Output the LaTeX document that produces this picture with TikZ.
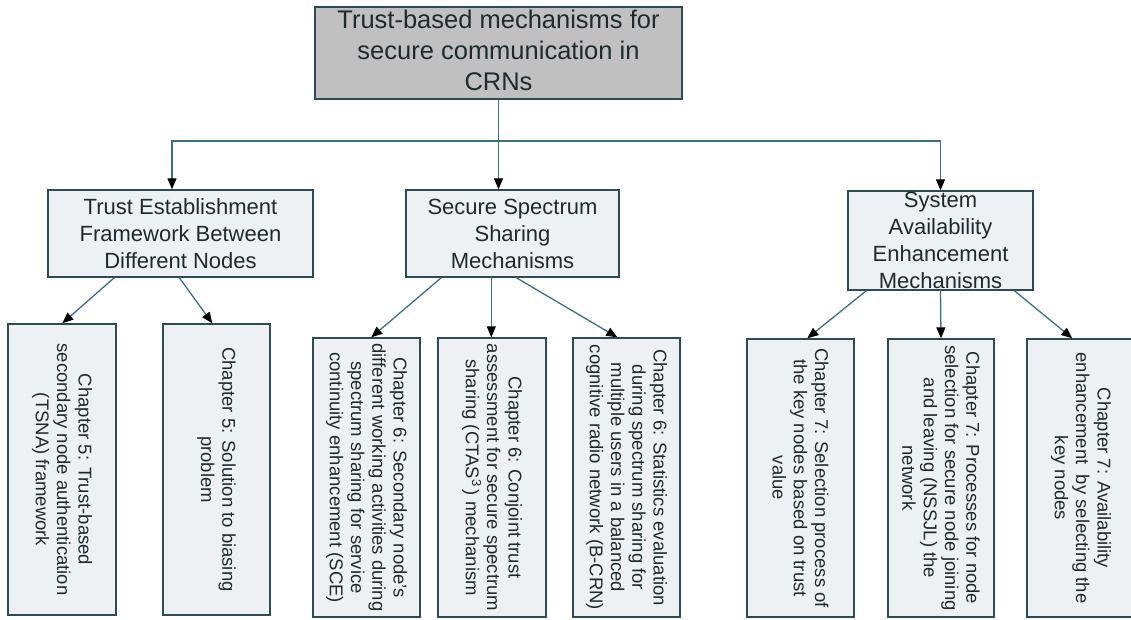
\documentclass[tikz,border=0pt]{standalone}
\usepackage{fontspec}
\setmainfont{Liberation Sans}
\usetikzlibrary{arrows.meta}

\definecolor{boxfill}{HTML}{EEF1F3}
\definecolor{topfill}{HTML}{C0C0C0}
\definecolor{edge}{HTML}{2E4A55}
\definecolor{wire}{HTML}{3D6F7F}
\definecolor{ink}{HTML}{1E2A2E}

\tikzset{
  box/.style={draw=edge, line width=1.4pt, fill=boxfill, inner sep=0pt},
  topbox/.style={box, fill=topfill},
  toptext/.style={text=ink, align=center, inner sep=0pt,
    font=\fontsize{25.5}{31}\selectfont},
  midtext/.style={text=ink, align=center, inner sep=0pt,
    font=\fontsize{22}{27}\selectfont},
  chaptext/.style={text=ink, align=center, inner sep=0pt, rotate=-90,
    font=\fontsize{18.5}{21.3}\selectfont},
  wireline/.style={draw=wire, line width=1.3pt},
  arrowline/.style={wireline, -{Triangle[length=11pt,width=9pt,color=black]}},
}

\begin{document}
\begin{tikzpicture}[x=1pt, y=-1pt]
\useasboundingbox (0,0) rectangle (1131,619);

% root
\node[topbox, minimum width=367pt, minimum height=92pt] (T) at (498.5,53) {};
\node[toptext] (Tt) at (498.5,50) {Trust-based mechanisms for\\secure communication in\\CRNs};

% second level
\node[box, minimum width=265pt, minimum height=87pt] (m1) at (180.5,233.5) {};
\node[midtext] (m1t) at (m1.center) {Trust Establishment\\Framework Between\\Different Nodes};
\node[box, minimum width=213pt, minimum height=87pt] (m2) at (512.5,233.5) {};
\node[midtext] (m2t) at (m2.center) {Secure Spectrum\\Sharing\\Mechanisms};
\node[box, minimum width=185pt, minimum height=99pt] (m3) at (940.5,240.5) {};
\node[midtext] (m3t) at (m3.center) {System\\Availability\\Enhancement\\Mechanisms};

% chapters
\node[box, minimum width=108pt, minimum height=291pt] (b1) at (62,469.5) {};
\node[chaptext] (b1t) at (b1.center) {Chapter 5: Trust-based\\secondary node authentication\\(TSNA) framework};
\node[box, minimum width=107pt, minimum height=291pt] (b2) at (216.5,469.5) {};
\node[chaptext] (b2t) at (b2.center) {Chapter 5: Solution to biasing\\problem};

\node[box, minimum width=107pt, minimum height=279pt] (b3) at (366.5,477.5) {};
\node[chaptext] (b3t) at (b3.center) {Chapter 6: Secondary node's\\different working activities during\\spectrum sharing for service\\continuity enhancement (SCE)};
\node[box, minimum width=108pt, minimum height=279pt] (b4) at (492,477.5) {};
\node[chaptext] (b4t) at (b4.center) {Chapter 6: Conjoint trust\\assessment for secure spectrum\\sharing (CTAS\textsuperscript{3}\,) mechanism};
\node[box, minimum width=107pt, minimum height=279pt] (b5) at (626.5,477.5) {};
\node[chaptext] (b5t) at (b5.center) {Chapter 6: Statistics evaluation\\during spectrum sharing for\\multiple users in a balanced\\cognitive radio network (B-CRN)};

\node[box, minimum width=107pt, minimum height=278pt] (b6) at (800.5,478) {};
\node[chaptext] (b6t) at (b6.center) {Chapter 7: Selection process of\\the key nodes based on trust\\value};
\node[box, minimum width=106pt, minimum height=278pt] (b7) at (941,478) {};
\node[chaptext] (b7t) at (b7.center) {Chapter 7: Processes for node\\selection for secure node joining\\and leaving (NSSJL) the\\network};
\node[box, minimum width=108pt, minimum height=278pt] (b8) at (1081,478) {};
\node[chaptext] (b8t) at (b8.center) {Chapter 7: Availability\\enhancement\ \ by selecting the\\key nodes};

% root to second level
\coordinate (bus) at (498.5,141);
\draw[wireline] (T.south) -- (bus);
\draw[arrowline] (bus) -| ([xshift=-8.5pt]m1.north);
\draw[arrowline] (bus) -- (bus |- m2.north);
\draw[arrowline] (bus) -| (m3.north);

% second level to chapters
\draw[arrowline] ([xshift=67pt]m1.south west) -- ([xshift=55pt]b1.north west);
\draw[arrowline] ([xshift=132pt]m1.south west) -- ([xshift=50pt]b2.north west);

\draw[arrowline] ([xshift=36pt]m2.south west) -- ([xshift=59pt]b3.north west);
\draw[arrowline] ([xshift=86pt]m2.south west) -- ([xshift=54pt]b4.north west);
\draw[arrowline] ([xshift=111pt]m2.south west) -- ([xshift=45pt]b5.north west);

\draw[arrowline] ([xshift=19pt]m3.south west) -- ([xshift=61pt]b6.north west);
\draw[arrowline] (m3.south) -- (b7.north);
\draw[arrowline] ([xshift=167pt]m3.south west) -- ([xshift=46pt]b8.north west);
\end{tikzpicture}
\end{document}
